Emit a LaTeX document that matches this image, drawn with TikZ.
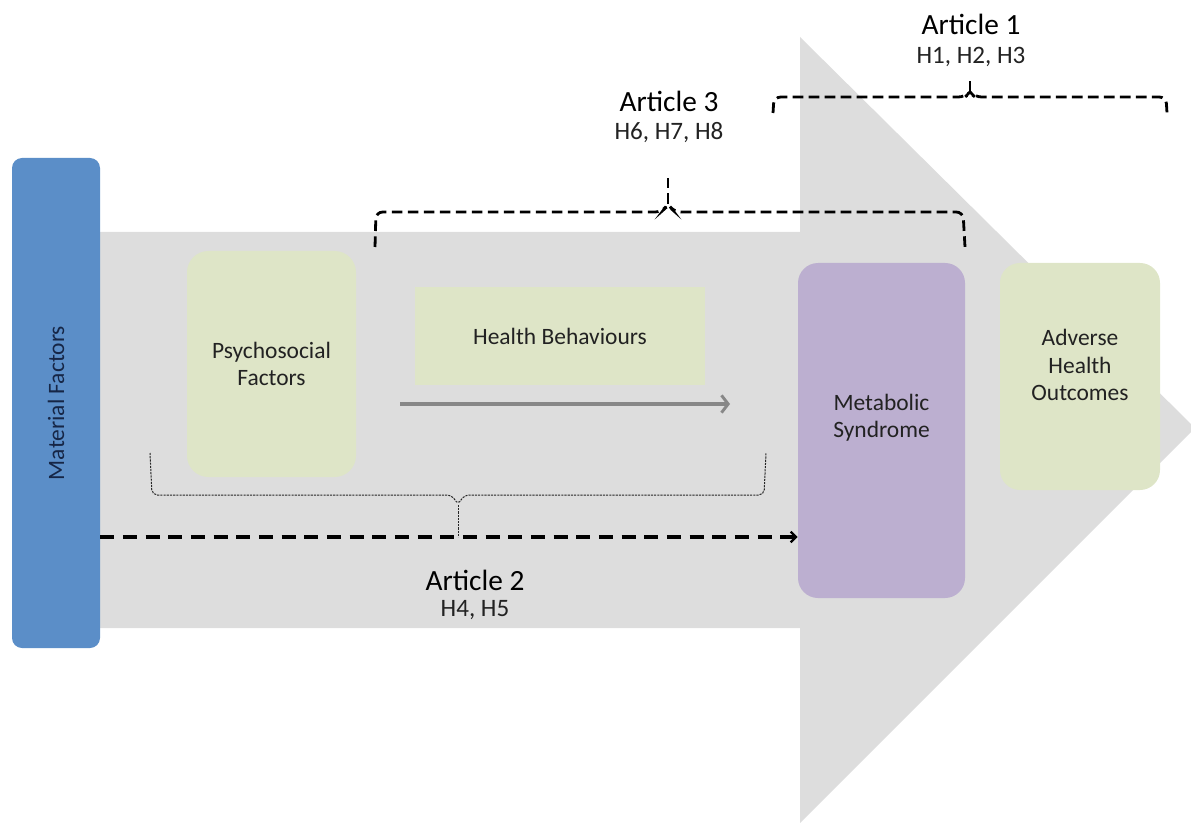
\documentclass[tikz,border=0pt]{standalone}
\usepackage{fontspec}
\setmainfont{Carlito}
\usetikzlibrary{arrows.meta}

\definecolor{shaftgray}{RGB}{221,221,221}
\definecolor{matblue}{RGB}{91,142,200}
\definecolor{softgreen}{RGB}{222,229,199}
\definecolor{lavender}{RGB}{188,175,208}
\definecolor{flowgray}{RGB}{135,135,135}
\definecolor{inktext}{RGB}{34,34,34}
\definecolor{navytext}{RGB}{22,38,70}

\begin{document}
\begin{tikzpicture}[x=0.75pt,y=-0.75pt,
  boxlabel/.style={font=\fontsize{17.6}{20.5}\selectfont, text=inktext, align=center},
  stagebox/.style={draw=none, inner sep=0pt},
  articletitle/.style={font=\fontsize{22}{25}\selectfont, text=black},
  hypotheses/.style={font=\fontsize{18.8}{22}\selectfont, text=inktext},
  bigbracket/.style={draw=black, line width=2.1pt, dash pattern=on 8pt off 4pt, rounded corners=5pt},
  thinbrace/.style={draw=black!85, line width=0.75pt, dash pattern=on 1.6pt off 0.8pt, rounded corners=4pt},
  mainlink/.style={draw=black, line width=2.6pt, dash pattern=on 10.5pt off 6.5pt,
    -{Straight Barb[length=4pt,width=8pt,line width=1.8pt]}},
  flowarrow/.style={draw=flowgray, line width=2.7pt,
    -{Straight Barb[length=5pt,width=13pt,line width=2.2pt]}}
]
\useasboundingbox (0,0) rectangle (1191,823);
\clip (0,0) rectangle (1191,823);

% broad grey arrow behind everything
\fill[shaftgray] (90,232) -- (800,232) -- (800,37) -- (1195,428) -- (800,823)
  -- (800,628) -- (90,628) -- cycle;

% stage boxes
\node[stagebox, fill=matblue, rounded corners=7.5pt, minimum width=66pt, minimum height=367.5pt]
  (mat) at (56,403) {};
\node[boxlabel, text=navytext, rotate=90] (matT) at (56,403) {Material Factors};

\node[stagebox, fill=softgreen, rounded corners=16pt, minimum width=126.75pt, minimum height=169.5pt,
  boxlabel] (psy) at (271.5,364) {Psychosocial\\Factors};

\node[stagebox, fill=softgreen, minimum width=217.5pt, minimum height=73.5pt, boxlabel]
  (hb) at (560,336) {Health Behaviours};

\node[stagebox, fill=lavender, rounded corners=15pt, minimum width=125.25pt, minimum height=251.25pt]
  (mets) at (881.5,430.5) {};
\node[boxlabel] (metsT) at (881.5,418) {Metabolic\\Syndrome};

\node[stagebox, fill=softgreen, rounded corners=15pt, minimum width=120pt, minimum height=170.25pt]
  (aho) at (1080,376.5) {};
\node[boxlabel] (ahoT) at (1080,365) {Adverse\\Health\\Outcomes};

% grey flow arrow under Health Behaviours
\coordinate (flowA) at (400,404);
\coordinate (flowB) at (730,404);
\draw[flowarrow] (flowA) -- (flowB);

% Article 2: material factors to metabolic syndrome
\coordinate (a2mid) at (458,537);
\draw[mainlink] (mat.east |- a2mid) -- (mets.west |- a2mid);

% thin brace over the mediators
\coordinate (br2L) at (150,453);
\coordinate (br2R) at (766,453);
\coordinate (br2tip) at (458,505);
\draw[thinbrace] (br2L) -- (152,495) -- (452,495) -- (br2tip) -- (464,495) -- (764,495) -- (br2R);
\draw[thinbrace] (br2tip) -- (a2mid);

\node[articletitle] (art2) at (475,580) {Article 2};
\node[hypotheses] (hyp2) at (475,610) {H4, H5};

% Article 3 bracket
\coordinate (br3L) at (375,247);
\coordinate (br3R) at (965,247);
\coordinate (br3tip) at (668,204);
\coordinate (br3top) at (668,178);
\draw[bigbracket] (br3L) -- (376,212) -- (662,212) -- (br3tip) -- (674,212) -- (963,212) -- (br3R);
\draw[bigbracket] (br3tip) -- (br3top);

\node[articletitle] (art3) at (669,101) {Article 3};
\node[hypotheses] (hyp3) at (669,133) {H6, H7, H8};

% Article 1 bracket
\coordinate (br1L) at (773,113);
\coordinate (br1R) at (1167,113);
\coordinate (br1tip) at (970,92);
\coordinate (br1top) at (970,79);
\draw[bigbracket] (br1L) -- (774,97) -- (965,97) -- (br1tip) -- (975,97) -- (1166,97) -- (br1R);
\draw[bigbracket] (br1tip) -- (br1top);

\node[articletitle] (art1) at (971,24) {Article 1};
\node[hypotheses] (hyp1) at (971,57) {H1, H2, H3};

\end{tikzpicture}
\end{document}
